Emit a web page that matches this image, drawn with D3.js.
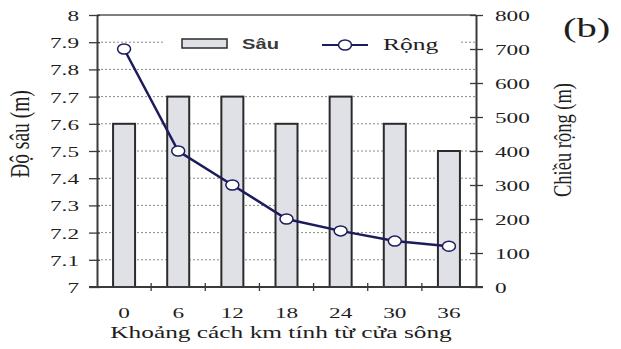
<!DOCTYPE html>
<html>
<head>
<meta charset="utf-8">
<script src="https://cdn.jsdelivr.net/npm/d3@7"></script>
<style>
  html, body { margin: 0; padding: 0; background: #fff; }
  svg { display: block; }
</style>
</head>
<body>
<svg id="chart" width="621" height="349"></svg>
<script>
// Distance from river mouth (km)
const categories = ["0", "6", "12", "18", "24", "30", "36"];
// Depth (m) – bars, left axis
const depthValues = [7.6, 7.7, 7.7, 7.6, 7.7, 7.6, 7.5];
// Width (m) – line, right axis
const widthValues = [700, 400, 300, 200, 165, 135, 120];
const leftTicks = [7, 7.1, 7.2, 7.3, 7.4, 7.5, 7.6, 7.7, 7.8, 7.9, 8];
const rightTicks = [0, 100, 200, 300, 400, 500, 600, 700, 800];

const svg = d3.select("#chart");
const m = { left: 97, right: 476, top: 15, bottom: 287 };
const serif = "'Liberation Serif', 'Times New Roman', serif";
const sans = "'Liberation Sans', Arial, sans-serif";
const axisColor = "#3a3a3a";
const textColor = "#1e1e1e";
const SX = 1.5; // wide lettering

// place a text at (x, y) with its glyphs widened horizontally
function wide(sel, x, y, sx = SX) {
  sel.attr("x", 0).attr("y", 0)
     .attr("transform", `translate(${x},${y}) scale(${sx},1)`);
}
function ink(sel) {
  sel.attr("fill", textColor);
}

const x = d3.scaleBand().domain(categories).range([m.left, m.right]).paddingInner(0).paddingOuter(0);
const yL = d3.scaleLinear().domain([7, 8]).range([m.bottom, m.top]);
const yR = d3.scaleLinear().domain([0, 800]).range([m.bottom, m.top]);

// dotted horizontal grid
svg.append("g").selectAll("line")
  .data(leftTicks.filter(t => t > 7 && t < 8))
  .join("line")
  .attr("x1", m.left).attr("x2", m.right)
  .attr("y1", d => yL(d)).attr("y2", d => yL(d))
  .attr("stroke", "#8a8a8a").attr("stroke-width", 1)
  .attr("stroke-dasharray", "2,2");

// legend background hides grid behind it
svg.append("rect")
  .attr("x", 165).attr("y", 27).attr("width", 295).attr("height", 30)
  .attr("fill", "#fff");

// depth bars
const barW = 22;
svg.append("g").selectAll("rect")
  .data(depthValues)
  .join("rect")
  .attr("x", (d, i) => x(categories[i]) + x.bandwidth() / 2 - barW / 2)
  .attr("y", d => yL(d))
  .attr("width", barW)
  .attr("height", d => yL(7) - yL(d))
  .attr("fill", "#dfe1e6")
  .attr("stroke", "#2b2b2b")
  .attr("stroke-width", 2);

// frame: top border
svg.append("line")
  .attr("x1", m.left).attr("x2", m.right)
  .attr("y1", m.top).attr("y2", m.top)
  .attr("stroke", "#555").attr("stroke-width", 1.5);

// left axis
const gL = svg.append("g").attr("transform", `translate(${m.left},0)`)
  .call(d3.axisLeft(yL).tickValues(leftTicks).tickFormat(d3.format("")).tickSizeInner(8).tickSizeOuter(0).tickPadding(10));
gL.select(".domain").attr("stroke", axisColor).attr("stroke-width", 2);
gL.selectAll(".tick line").attr("stroke", axisColor).attr("stroke-width", 1.3).attr("x2", -8).attr("x1", 3);
gL.selectAll(".tick text")
  .attr("font-family", serif).attr("font-size", 15.5).attr("dy", null)
  .call(wide, -18, 5.5).call(ink);

// right axis
const gR = svg.append("g").attr("transform", `translate(${m.right},0)`)
  .call(d3.axisRight(yR).tickValues(rightTicks).tickSizeInner(7).tickSizeOuter(0).tickPadding(10));
gR.select(".domain").attr("stroke", axisColor).attr("stroke-width", 2);
gR.selectAll(".tick line").attr("stroke", axisColor).attr("stroke-width", 1.3).attr("x1", -6).attr("x2", 7);
gR.selectAll(".tick text")
  .attr("font-family", serif).attr("font-size", 15.5).attr("dy", null)
  .call(wide, 19, 5.5).call(ink);

// bottom axis: ticks at band boundaries, labels at band centers
const boundaries = categories.slice(1).map(c => x(c));
svg.append("line")
  .attr("x1", m.left - 8).attr("x2", m.right + 7)
  .attr("y1", m.bottom).attr("y2", m.bottom)
  .attr("stroke", axisColor).attr("stroke-width", 2);
svg.append("g").selectAll("line")
  .data(boundaries)
  .join("line")
  .attr("x1", d => d).attr("x2", d => d)
  .attr("y1", m.bottom - 4).attr("y2", m.bottom + 4)
  .attr("stroke", axisColor).attr("stroke-width", 1.3);
svg.append("g").selectAll("text")
  .data(categories)
  .join("text")
  .attr("text-anchor", "middle")
  .attr("font-family", serif).attr("font-size", 15.5)
  .text(d => d)
  .each(function (d) { d3.select(this).call(wide, x(d) + x.bandwidth() / 2, 317.5).call(ink); });

// width line with markers
const line = d3.line()
  .x((d, i) => x(categories[i]) + x.bandwidth() / 2)
  .y(d => yR(d));
svg.append("path")
  .datum(widthValues)
  .attr("d", line)
  .attr("fill", "none")
  .attr("stroke", "#1c1c5c")
  .attr("stroke-width", 2.5);
svg.append("g").selectAll("ellipse")
  .data(widthValues)
  .join("ellipse")
  .attr("cx", (d, i) => x(categories[i]) + x.bandwidth() / 2)
  .attr("cy", d => yR(d))
  .attr("rx", 6.5).attr("ry", 5)
  .attr("fill", "#fff")
  .attr("stroke", "#1c1c5c")
  .attr("stroke-width", 1.5);

// legend
const lg = svg.append("g");
lg.append("rect")
  .attr("x", 182).attr("y", 39).attr("width", 45).attr("height", 9)
  .attr("fill", "#dfe1e6").attr("stroke", "#2b2b2b").attr("stroke-width", 1.5);
lg.append("text")
  .attr("font-family", sans).attr("font-size", 15.5).attr("font-weight", "bold")
  .attr("fill", "#3a3a3a")
  .text("Sâu")
  .call(wide, 242, 49, 1.3);
lg.append("line")
  .attr("x1", 322).attr("x2", 368).attr("y1", 45).attr("y2", 45)
  .attr("stroke", "#1c1c5c").attr("stroke-width", 2);
lg.append("ellipse")
  .attr("cx", 345).attr("cy", 45).attr("rx", 6.5).attr("ry", 5)
  .attr("fill", "#fff").attr("stroke", "#1c1c5c").attr("stroke-width", 1.5);
lg.append("text")
  .attr("font-family", serif).attr("font-size", 17)
  .text("Rộng")
  .call(wide, 383, 50).call(ink);

// axis titles (vertical, glyphs thickened across the page width)
svg.append("text")
  .attr("transform", "translate(29,134) rotate(-90) scale(1,1.4)")
  .attr("text-anchor", "middle")
  .attr("font-family", serif).attr("font-size", 19.5)
  .text("Độ sâu (m)").call(ink);
svg.append("text")
  .attr("transform", "translate(571,140) rotate(-90) scale(1,1.4)")
  .attr("text-anchor", "middle")
  .attr("font-family", serif).attr("font-size", 18.5)
  .text("Chiều rộng (m)").call(ink);
svg.append("text")
  .attr("text-anchor", "middle")
  .attr("font-family", serif).attr("font-size", 17.5)
  .text("Khoảng cách km tính từ cửa sông")
  .call(wide, 281, 338, 1.45).call(ink);

// panel label
svg.append("text")
  .attr("font-family", serif).attr("font-size", 28)
  .text("(b)")
  .call(wide, 563, 37, 1.45).call(ink);
</script>
</body>
</html>
